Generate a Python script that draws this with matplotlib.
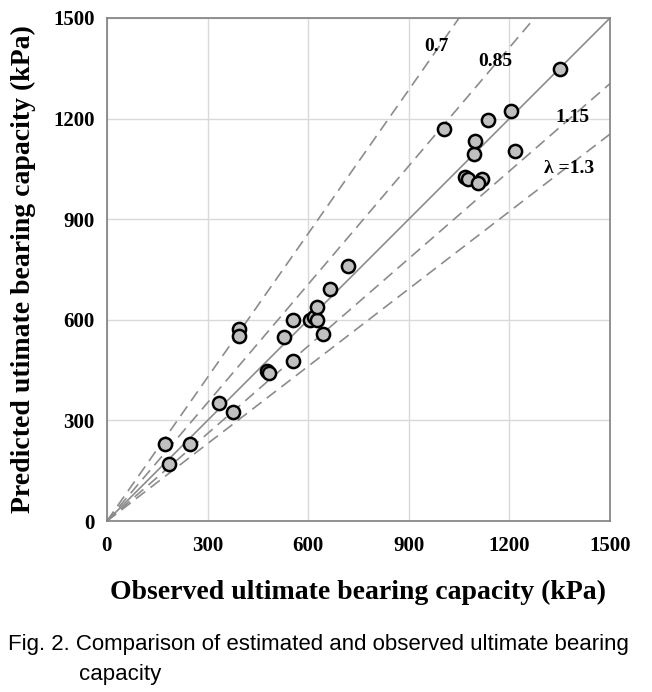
import matplotlib
matplotlib.use("Agg")
import matplotlib.pyplot as plt
import numpy as np

# observed vs predicted ultimate bearing capacity (kPa)
observed = [173, 248, 186, 335, 377, 395, 395, 477, 483, 529, 554, 556, 604, 617,
            626, 626, 644, 664, 720, 1006, 1093, 1096, 1135, 1205, 1218, 1350,
            1067, 1077, 1118, 1106]
predicted = [231, 231, 169, 352, 324, 573, 553, 447, 441, 548, 601, 478, 601, 609,
             599, 639, 558, 692, 762, 1168, 1093, 1133, 1196, 1223, 1103, 1349,
             1027, 1019, 1019, 1007]

ratios = [0.7, 0.85, 1.15, 1.3]
ratio_labels = ["0.7", "0.85", "1.15", "\u03bb =1.3"]
label_pos = [(982, 1416), (1158, 1369), (1387, 1204), (1379, 1052)]

ticks = [0, 300, 600, 900, 1200, 1500]

serif = "Liberation Serif"
line_grey = "#8c8c8c"

fig = plt.figure(figsize=(6.52, 6.92), dpi=100)
ax = fig.add_axes([0.164, 0.247, 0.7716, 0.727])

xs = np.array([0, 1500])
ax.plot(xs, xs, color=line_grey, lw=1.2, zorder=2)
for r in ratios:
    ax.plot(xs, xs / r, color=line_grey, lw=1.2, dashes=(7, 4), zorder=2)

ax.plot(observed, predicted, "o", ms=9.5, mfc="#c0c0c0", mec="black", mew=1.8, zorder=3)

for txt, (tx, ty) in zip(ratio_labels, label_pos):
    ax.text(tx, ty, txt, ha="center", va="center", fontsize=14,
            fontweight="bold", family=serif)

ax.set_xlim(0, 1500)
ax.set_ylim(0, 1500)
ax.set_xticks(ticks)
ax.set_yticks(ticks)
ax.grid(True, color="#d9d9d9", lw=1.0, zorder=0)
ax.set_axisbelow(True)
ax.tick_params(axis="x", length=0, pad=11)
ax.tick_params(axis="y", length=0, pad=9)
for lab in ax.get_xticklabels() + ax.get_yticklabels():
    lab.set_fontfamily(serif)
    lab.set_fontweight("bold")
    lab.set_fontsize(15)
for sp in ax.spines.values():
    sp.set_color("#7f7f7f")
    sp.set_linewidth(1.2)

ax.set_xlabel("Observed ultimate bearing capacity (kPa)", fontsize=20,
              fontweight="bold", family=serif, labelpad=17)
ax.set_ylabel("Predicted utimate bearing capacity (kPa)", fontsize=20,
              fontweight="bold", family=serif, labelpad=12)

cap_font = "Liberation Sans"
fig.text(0.012, 0.068, "Fig. 2. Comparison of estimated and observed ultimate bearing",
         fontsize=16, family=cap_font, va="center", ha="left")
fig.text(0.121, 0.025, "capacity", fontsize=16, family=cap_font, va="center", ha="left")

fig.savefig("out.png", dpi=100)
